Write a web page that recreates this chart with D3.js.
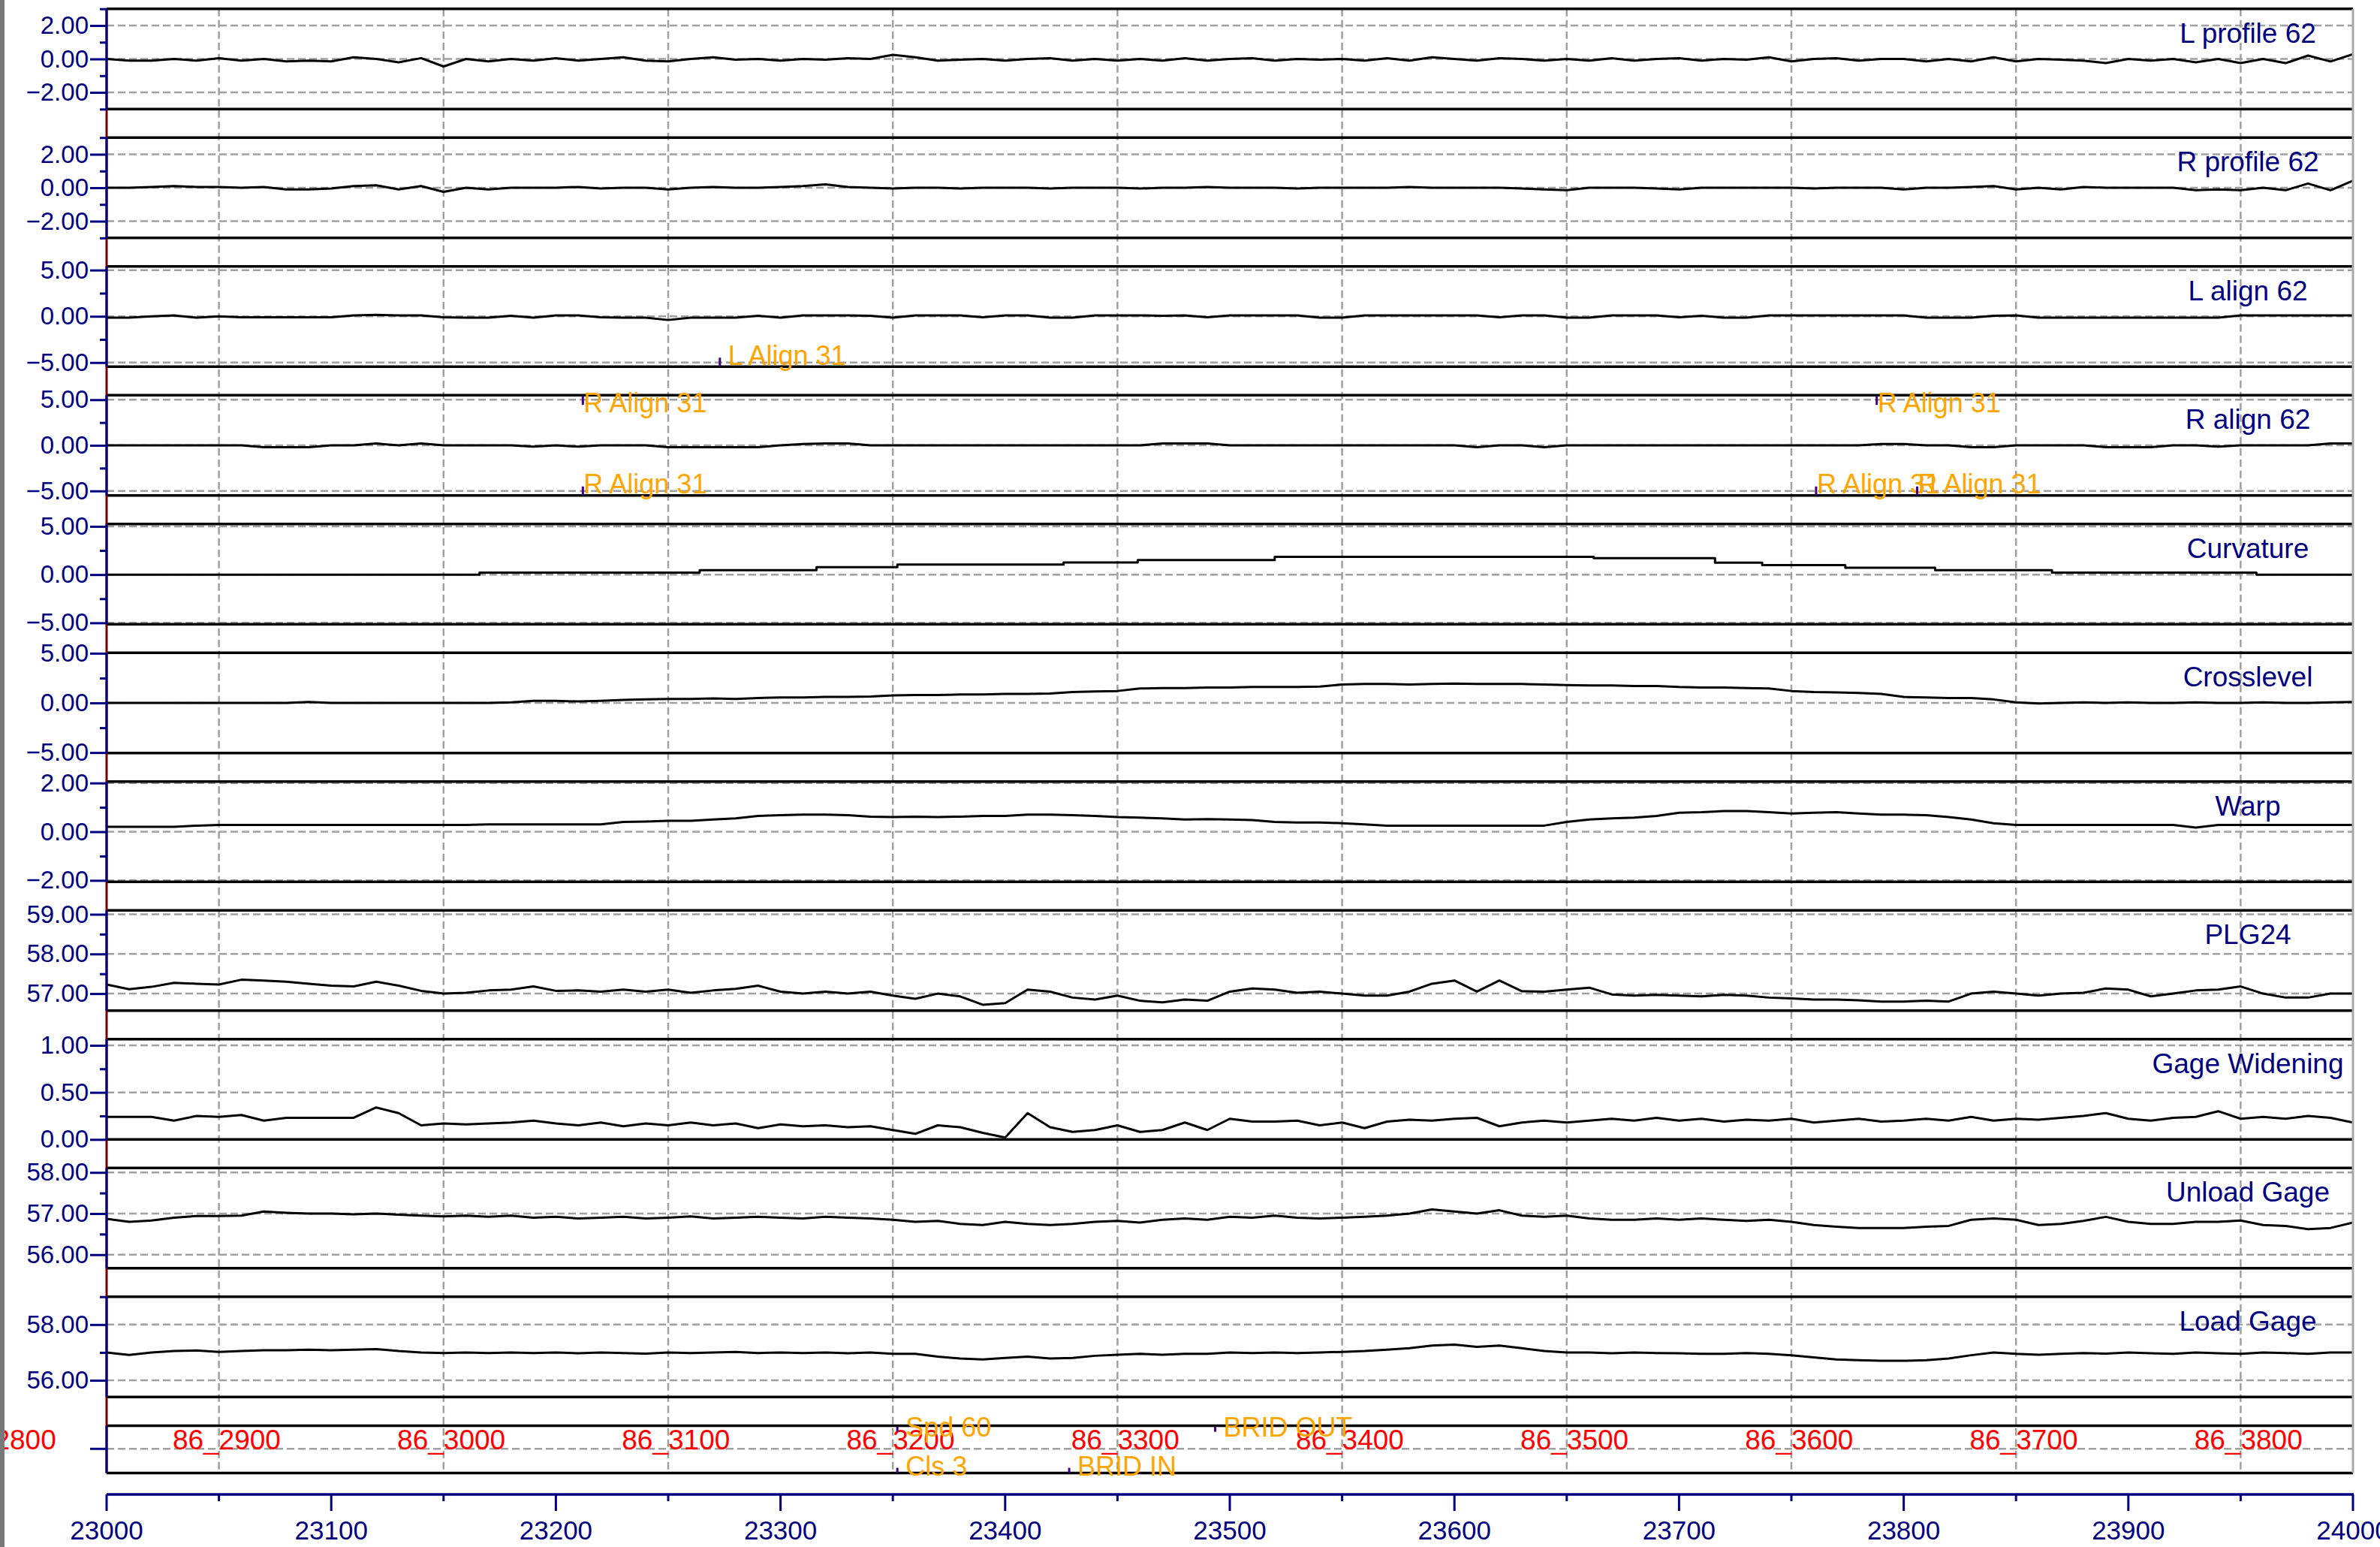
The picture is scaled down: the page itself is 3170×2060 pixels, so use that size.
<!DOCTYPE html>
<html><head><meta charset="utf-8">
<script src="https://cdn.jsdelivr.net/npm/d3@7"></script>
<style>
html,body{margin:0;padding:0;background:#fff;}
svg{display:block;}
</style></head><body>
<svg id="c" width="3170" height="2060"></svg>
<script>
// ---------------- DATA ----------------
const startStation = 23000, sampleStep = 10; // series sampled every 10 units from 23000 to 24000

const lProfile = [
 0,-0.1,-0.1,0,-0.1,0.05,-0.1,0,-0.15,-0.1,
 -0.15,0.1,0,-0.2,0.05,-0.45,0,-0.15,0,-0.1,
 0.05,-0.1,0,0.1,-0.1,-0.15,0,0.1,-0.05,0,
 -0.1,0,-0.05,0.05,0,0.25,0.1,-0.1,-0.05,0,
 -0.1,0,0.05,-0.1,0,-0.1,0,-0.1,0.05,-0.1,
 0,0.05,-0.1,0,-0.05,0,-0.1,0.05,-0.1,0.1,
 0,-0.1,0.05,0,-0.1,0,-0.1,0.05,-0.1,0,
 0.05,-0.1,0,-0.05,0.1,-0.15,0,0.05,-0.1,0,
 0,-0.15,0,-0.15,0.1,-0.15,0,-0.05,-0.1,-0.25,
 0,-0.1,0,-0.2,0,-0.25,0,-0.25,0.2,-0.15,
 0.28];
const rProfile = [
 0,0,0.05,0.1,0.05,0.05,0,0.05,-0.1,-0.1,
 -0.05,0.1,0.15,-0.1,0.1,-0.25,0,-0.1,0,0,
 0,0.05,-0.05,0,0,-0.1,0,0.05,0,0,
 0.05,0.1,0.2,0.05,0,-0.05,0,0,-0.05,0,
 0,0,-0.05,0,0,0,-0.05,0,0,0.05,
 0,0,0,-0.05,0,0,0,0,0.05,0,
 0,0,0,-0.05,-0.1,-0.15,0,0,0,-0.05,
 -0.1,0,0,0,0,0,-0.05,0,0,0,
 -0.1,0,0,0.05,0.1,-0.1,0,-0.1,0.05,0,
 0,0,0,-0.15,-0.1,-0.15,0,-0.15,0.25,-0.15,
 0.42];
const lAlign = [
 -0.15,-0.15,0,0.1,-0.15,0,-0.1,-0.1,-0.1,-0.1,
 -0.1,0.1,0.15,0.1,0.1,-0.1,-0.15,-0.15,0.05,-0.15,
 0.1,0.1,-0.1,-0.15,-0.15,-0.4,-0.15,-0.15,-0.15,0.05,
 -0.15,0.1,0.1,0.1,0.05,-0.15,0.1,0.1,0.1,-0.1,
 0.1,0.1,-0.15,-0.15,0.1,0.1,0.1,0.05,0.1,-0.1,
 0.1,0.1,0.1,0.1,-0.15,-0.15,0.1,0.1,0.1,0.1,
 0.1,0.1,-0.1,0.1,0.1,-0.15,-0.15,0.1,0.1,0.1,
 -0.1,0.05,-0.15,-0.15,0.1,0.1,0.1,0.1,0.1,0.1,
 0.1,-0.15,-0.15,-0.15,0.05,0.1,-0.15,-0.15,-0.15,-0.15,
 -0.15,-0.15,-0.15,-0.15,-0.15,0.1,0.1,0.1,0.1,0.1,
 0.1];
const rAlign = [
 0,0,0,0,0,0,0,-0.2,-0.2,-0.2,
 0,0,0.2,0,0.2,0,0,0,0,-0.15,
 0,-0.15,0,0,0,-0.2,-0.2,-0.2,-0.2,-0.2,
 0,0.15,0.2,0.2,0,0,0,0,0,0,
 0,0,0,0,0,0,0,0.2,0.2,0.2,
 0,0,0,0,0,0,0,0,0,0,
 0,-0.2,0,0,-0.2,0,0,0,0,0,
 0,0,0,0,0,0,0,0,0,0.15,
 0.15,0,0,-0.2,-0.2,0,0,0,0,-0.2,
 -0.2,-0.2,0,0,-0.15,0,0,0,0,0.2,
 0.2];
const curvatureStations = [23000,23166,23264,23316,23352,23426,23459,23520,23662,23716,23737,23774,23814,23866,23957,24000];
const curvatureValues   = [0,0.2,0.45,0.77,1.05,1.25,1.5,1.85,1.7,1.23,0.98,0.72,0.46,0.2,0,0];
const crosslevel = [
 0,0,0,0,0,0,0,0,0,0.1,
 0,0,0,0,0,0,0,0,0.05,0.2,
 0.2,0.15,0.2,0.3,0.35,0.4,0.4,0.45,0.4,0.5,
 0.55,0.55,0.6,0.6,0.65,0.75,0.8,0.8,0.85,0.85,
 0.9,0.9,0.95,1.1,1.15,1.2,1.45,1.5,1.5,1.55,
 1.55,1.6,1.6,1.6,1.65,1.85,1.9,1.9,1.85,1.9,
 1.95,1.9,1.9,1.9,1.85,1.8,1.75,1.75,1.7,1.7,
 1.6,1.55,1.55,1.5,1.45,1.2,1.1,1.05,1.0,0.9,
 0.6,0.55,0.5,0.5,0.35,0.05,-0.05,0,0.05,0,
 0.05,0,0,0.05,0,0,0.05,0,0,0.05,
 0.1];
const warp = [
 0.2,0.2,0.2,0.2,0.25,0.28,0.28,0.28,0.28,0.28,
 0.28,0.28,0.28,0.28,0.28,0.28,0.28,0.3,0.3,0.3,
 0.3,0.3,0.3,0.4,0.42,0.45,0.45,0.5,0.55,0.65,
 0.68,0.7,0.7,0.68,0.62,0.6,0.62,0.6,0.62,0.65,
 0.65,0.7,0.7,0.68,0.65,0.6,0.58,0.55,0.5,0.52,
 0.5,0.48,0.4,0.38,0.38,0.35,0.3,0.25,0.25,0.25,
 0.25,0.25,0.25,0.25,0.25,0.4,0.5,0.55,0.58,0.65,
 0.78,0.8,0.85,0.85,0.8,0.75,0.78,0.8,0.75,0.7,
 0.7,0.68,0.6,0.5,0.35,0.28,0.28,0.28,0.28,0.28,
 0.28,0.28,0.28,0.17,0.28,0.28,0.28,0.28,0.28,0.28,
 0.28];
const plg24 = [
 57.23,57.11,57.17,57.27,57.25,57.23,57.35,57.33,57.3,57.25,
 57.2,57.18,57.3,57.2,57.07,57.0,57.02,57.08,57.1,57.18,
 57.07,57.08,57.05,57.1,57.05,57.1,57.02,57.08,57.12,57.2,
 57.05,57.0,57.05,57.0,57.05,56.95,56.87,57.0,56.93,56.72,
 56.76,57.1,57.05,56.9,56.85,56.95,56.82,56.78,56.85,56.82,
 57.05,57.13,57.1,57.02,57.05,57.0,56.95,56.95,57.05,57.25,
 57.33,57.05,57.33,57.06,57.05,57.1,57.15,56.98,56.95,56.97,
 56.95,56.93,56.97,56.95,56.9,56.88,56.85,56.85,56.83,56.8,
 56.8,56.82,56.8,57.0,57.05,57.0,56.95,57.0,57.02,57.13,
 57.1,56.93,57.0,57.08,57.1,57.18,57.0,56.9,56.9,57.0,
 57.0];
const gageWidening = [
 0.24,0.24,0.24,0.2,0.25,0.24,0.26,0.2,0.23,0.23,
 0.23,0.23,0.34,0.28,0.15,0.17,0.16,0.17,0.18,0.2,
 0.17,0.15,0.18,0.14,0.17,0.15,0.18,0.15,0.17,0.12,
 0.16,0.14,0.15,0.13,0.14,0.1,0.06,0.15,0.13,0.07,
 0.02,0.28,0.13,0.08,0.1,0.15,0.08,0.1,0.18,0.1,
 0.22,0.19,0.19,0.2,0.15,0.18,0.12,0.19,0.21,0.2,
 0.22,0.23,0.14,0.18,0.2,0.18,0.2,0.22,0.2,0.23,
 0.2,0.22,0.19,0.21,0.2,0.22,0.18,0.2,0.22,0.19,
 0.2,0.22,0.2,0.24,0.2,0.22,0.21,0.23,0.25,0.28,
 0.22,0.2,0.23,0.24,0.3,0.22,0.24,0.22,0.25,0.23,
 0.18];
const unloadGage = [
 56.87,56.8,56.83,56.9,56.94,56.94,56.95,57.05,57.02,57.0,
 57.0,56.98,57.0,56.97,56.95,56.93,56.95,56.92,56.95,56.9,
 56.92,56.88,56.9,56.92,56.88,56.9,56.93,56.88,56.9,56.92,
 56.9,56.88,56.92,56.9,56.88,56.85,56.8,56.82,56.75,56.72,
 56.8,56.75,56.72,56.75,56.8,56.82,56.78,56.85,56.88,56.85,
 56.92,56.9,56.95,56.9,56.88,56.9,56.92,56.95,57.0,57.1,
 57.05,57.0,57.08,56.95,56.92,56.95,56.88,56.85,56.85,56.88,
 56.85,56.88,56.85,56.82,56.85,56.8,56.72,56.68,56.65,56.65,
 56.65,56.68,56.7,56.85,56.88,56.85,56.72,56.75,56.82,56.92,
 56.8,56.75,56.75,56.8,56.8,56.83,56.72,56.7,56.62,56.65,
 56.78];
const loadGage = [
 57.0,56.91,57.0,57.05,57.07,57.02,57.05,57.08,57.08,57.1,
 57.08,57.1,57.12,57.05,57.0,56.98,57.0,56.98,57.0,56.98,
 57.0,56.97,57.0,56.98,56.96,57.0,56.98,57.0,57.02,56.98,
 57.0,56.98,57.0,56.97,57.0,56.95,56.95,56.85,56.78,56.75,
 56.8,56.85,56.78,56.8,56.88,56.92,56.95,56.92,56.95,56.95,
 57.0,56.98,57.0,56.98,57.0,57.02,57.05,57.1,57.15,57.25,
 57.28,57.2,57.25,57.15,57.05,57.0,57.0,56.97,57.0,56.98,
 56.97,56.95,56.95,56.98,56.95,56.9,56.82,56.75,56.72,56.7,
 56.7,56.72,56.78,56.9,57.0,56.95,56.92,56.95,56.98,56.96,
 57.0,56.97,56.95,57.0,56.97,56.95,57.0,56.98,56.95,57.0,
 57.0];

const panelTitles  = ["L profile 62","R profile 62","L align 62","R align 62","Curvature","Crosslevel","Warp","PLG24","Gage Widening","Unload Gage","Load Gage"];
const panelDomains = [[-3,3],[-3,3],[-5.45,5.4],[-5.5,5.5],[-5.15,5.25],[-5.05,5.05],[-2.06,2.06],[56.57,59.1],[0,1.066],[55.67,58.11],[55.4,59]];
const panelMajorTicks = [[2,0,-2],[2,0,-2],[5,0,-5],[5,0,-5],[5,0,-5],[5,0,-5],[2,0,-2],[59,58,57],[1,0.5,0],[58,57,56],[58,56]];
const panelMinorTicks = [[3,1,-1,-3],[3,1,-1,-3],[2.5,-2.5],[2.5,-2.5],[2.5,-2.5],[2.5,-2.5],[1,-1],[58.5,57.5],[0.75,0.25],[57.5,56.5],[59,57]];
const panelSeries  = [lProfile,rProfile,lAlign,rAlign,null,crosslevel,warp,plg24,gageWidening,unloadGage,loadGage];

const xTickValues  = [23000,23100,23200,23300,23400,23500,23600,23700,23800,23900,24000];
const xMinorTicks  = [23050,23150,23250,23350,23450,23550,23650,23750,23850,23950];
const gridStations = [23050,23150,23250,23350,23450,23550,23650,23750,23850,23950];
const stationMarkLabels = ["86_2800","86_2900","86_3000","86_3100","86_3200","86_3300","86_3400","86_3500","86_3600","86_3700","86_3800"];
const stationMarkPos    = [22950,23050,23150,23250,23350,23450,23550,23650,23750,23850,23950];

// event markers: panel index (11 = location track), station, label, row
const eventPanel   = [2,3,3,3,3,3,11,11,11,11];
const eventStation = [23273,23212,23788,23212,23761,23806,23352,23352,23428.5,23493.5];
const eventLabel   = ["\u00a0L Align 31","R Align 31","R Align 31","R Align 31","R Align 31","R Align 31","\u00a0Spd 60","\u00a0Cls 3","\u00a0BRID IN","\u00a0BRID OUT"];
const eventRow     = ["bottom","top","top","bottom","bottom","bottom","top","bottom","bottom","top"];

// ---------------- LAYOUT ----------------
const W = 3170, H = 2060, L = 142, R = 3134;
const TOP0 = 11.7, PITCH = 171.5, PH = 133.6;
const EV_TOP = 1898.6, EV_H = 63;
const AX_Y = 1990;
const FONT = "'Liberation Sans', Arial, Helvetica, sans-serif";
const NAVY = "#000080", DRED = "#7A0000", GRID = "#A0A0A0", ORANGE = "#FFA500", RED = "#FF0000", EVT = "#40007F";

const svg = d3.select("#c");
svg.append("rect").attr("width", W).attr("height", H).attr("fill", "#fff");

const x = d3.scaleLinear().domain([23000, 24000]).range([L, R]);
const stationOf = j => startStation + j * sampleStep;

svg.append("defs").append("clipPath").attr("id", "plotclip")
  .append("rect").attr("x", L).attr("y", 0).attr("width", R - L).attr("height", H);

const gGrid = svg.append("g");
const gData = svg.append("g");
const gFrame = svg.append("g");
const gAxis = svg.append("g");
const gText = svg.append("g");

// vertical dashed gridlines
gGrid.selectAll("line.vg").data(gridStations).join("line")
  .attr("x1", d => x(d)).attr("x2", d => x(d))
  .attr("y1", TOP0).attr("y2", EV_TOP + EV_H)
  .attr("stroke", GRID).attr("stroke-width", 2.5).attr("stroke-dasharray", "10,5");

// left axis base line (dark red between panels)
gAxis.append("line").attr("x1", L).attr("x2", L).attr("y1", TOP0).attr("y2", EV_TOP + EV_H)
  .attr("stroke", DRED).attr("stroke-width", 3);

panelTitles.forEach((title, i) => {
  const top = TOP0 + i * PITCH, bot = top + PH;
  const y = d3.scaleLinear().domain(panelDomains[i]).range([bot, top]);

  gGrid.selectAll(null).data(panelMajorTicks[i]).join("line")
    .attr("x1", L).attr("x2", R).attr("y1", d => y(d)).attr("y2", d => y(d))
    .attr("stroke", GRID).attr("stroke-width", 2.5).attr("stroke-dasharray", "10,5");

  let path;
  if (panelSeries[i]) {
    path = d3.line().x((d, j) => x(stationOf(j))).y(d => y(d))(panelSeries[i]);
  } else {
    path = d3.line().curve(d3.curveStepAfter).x((d, j) => x(curvatureStations[j])).y(d => y(d))(curvatureValues);
  }
  gData.append("path").attr("d", path).attr("fill", "none").attr("stroke", "#000")
    .attr("stroke-width", 3).attr("stroke-linejoin", "round").attr("clip-path", "url(#plotclip)");

  gFrame.selectAll(null).data([top, bot]).join("line")
    .attr("x1", L).attr("x2", R).attr("y1", d => d).attr("y2", d => d)
    .attr("stroke", "#000").attr("stroke-width", 3.5);

  // axis
  gAxis.append("line").attr("x1", L).attr("x2", L).attr("y1", top).attr("y2", bot)
    .attr("stroke", NAVY).attr("stroke-width", 3);
  const ga = gAxis.append("g").attr("transform", `translate(${L},0)`)
    .call(d3.axisLeft(y).tickValues(panelMajorTicks[i]).tickSize(22).tickPadding(2).tickFormat(d3.format(".2f")))
    .attr("font-size", 33).attr("font-family", FONT);
  ga.select(".domain").remove();
  ga.selectAll("line").attr("stroke", NAVY).attr("stroke-width", 3);
  ga.selectAll("text").attr("fill", NAVY);
  const gm = gAxis.append("g").attr("transform", `translate(${L},0)`)
    .call(d3.axisLeft(y).tickValues(panelMinorTicks[i]).tickSize(9).tickFormat(""));
  gm.select(".domain").remove();
  gm.selectAll("line").attr("stroke", NAVY).attr("stroke-width", 3);

  gText.append("text").attr("x", 2994).attr("y", top + 45).attr("text-anchor", "middle")
    .attr("font-family", FONT).attr("font-size", 37).attr("fill", NAVY).text(title);
});

// location track panel
const evMid = EV_TOP + 30.7;
gGrid.append("line").attr("x1", L).attr("x2", R).attr("y1", evMid).attr("y2", evMid)
  .attr("stroke", GRID).attr("stroke-width", 2.5).attr("stroke-dasharray", "10,5");
gFrame.selectAll(null).data([EV_TOP, EV_TOP + EV_H]).join("line")
  .attr("x1", L).attr("x2", R).attr("y1", d => d).attr("y2", d => d)
  .attr("stroke", "#000").attr("stroke-width", 3.5);
gAxis.append("line").attr("x1", L).attr("x2", L).attr("y1", EV_TOP).attr("y2", EV_TOP + EV_H)
  .attr("stroke", NAVY).attr("stroke-width", 3);
gAxis.append("line").attr("x1", L - 22).attr("x2", L).attr("y1", evMid).attr("y2", evMid)
  .attr("stroke", NAVY).attr("stroke-width", 3);

// station labels (red)
const redFs = 37;
gText.selectAll("text.st").data(stationMarkLabels).join("text")
  .attr("x", (d, k) => x(stationMarkPos[k]) - 3 * 0.556 * redFs)
  .attr("y", evMid + 1)
  .attr("font-family", FONT).attr("font-size", redFs).attr("fill", RED).text(d => d);

// events
eventLabel.forEach((t, k) => {
  const p = eventPanel[k], isEv = p === 11;
  const top = isEv ? EV_TOP : TOP0 + p * PITCH;
  const bot = isEv ? EV_TOP + EV_H : top + PH;
  const xx = x(eventStation[k]);
  let base, t1, t2;
  if (eventRow[k] === "top") { base = isEv ? top + 14.5 : top + 23; t1 = top + 1; t2 = isEv ? top + 8 : top + 13; }
  else { base = isEv ? bot + 3.5 : bot - 2.6; t1 = isEv ? bot - 7 : bot - 12; t2 = bot; }
  gText.append("line").attr("x1", xx).attr("x2", xx).attr("y1", t1).attr("y2", t2)
    .attr("stroke", EVT).attr("stroke-width", 3);
  gText.append("text").attr("x", xx + 1).attr("y", base)
    .attr("font-family", FONT).attr("font-size", 36).attr("fill", ORANGE)
    .style("white-space", "pre").text(t);
});

// bottom axis
gAxis.append("line").attr("x1", L).attr("x2", R + 1).attr("y1", AX_Y).attr("y2", AX_Y)
  .attr("stroke", NAVY).attr("stroke-width", 3.5);
gAxis.selectAll(null).data(xTickValues).join("line")
  .attr("x1", d => x(d)).attr("x2", d => x(d)).attr("y1", AX_Y).attr("y2", AX_Y + 22)
  .attr("stroke", NAVY).attr("stroke-width", 3);
gAxis.selectAll(null).data(xMinorTicks).join("line")
  .attr("x1", d => x(d)).attr("x2", d => x(d)).attr("y1", AX_Y).attr("y2", AX_Y + 9)
  .attr("stroke", NAVY).attr("stroke-width", 3);
gAxis.selectAll(null).data(xTickValues).join("text")
  .attr("x", d => x(d)).attr("y", 2050).attr("text-anchor", "middle")
  .attr("font-family", FONT).attr("font-size", 35).attr("fill", NAVY).text(d => d3.format("d")(d));

// borders
svg.append("line").attr("x1", R).attr("x2", R).attr("y1", TOP0).attr("y2", EV_TOP + EV_H)
  .attr("stroke", "#A8A8A8").attr("stroke-width", 3);
svg.append("rect").attr("x", 0).attr("y", 0).attr("width", 6).attr("height", H).attr("fill", "#787878");
</script>
</body></html>
